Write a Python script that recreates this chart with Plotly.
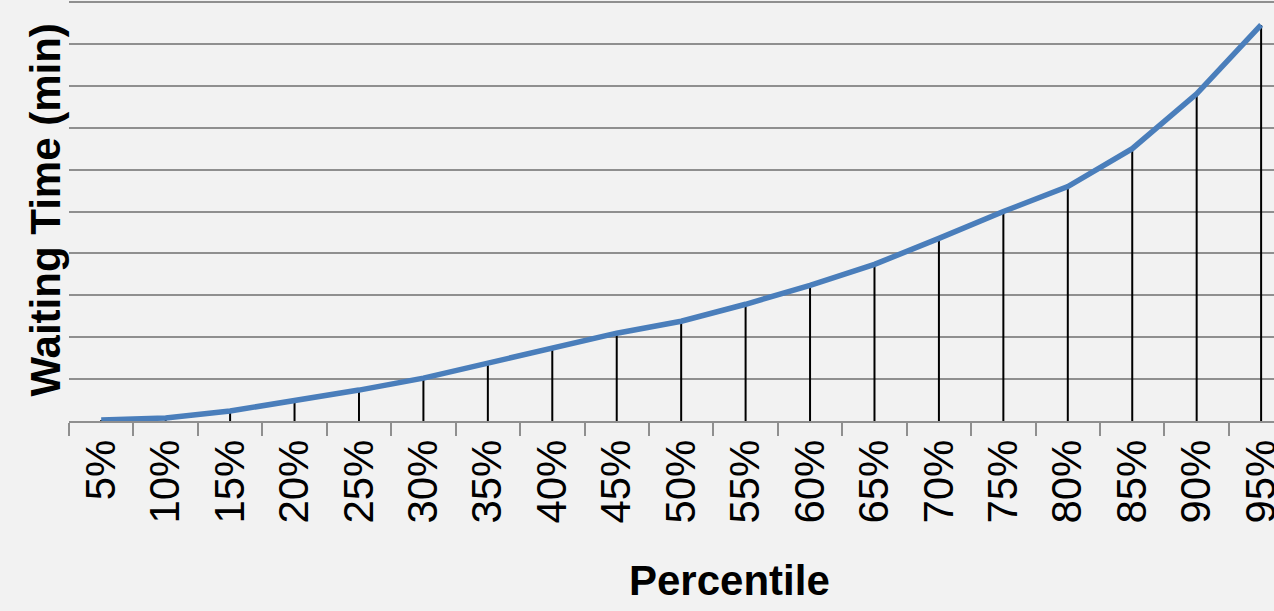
import plotly.graph_objects as go

# Percentile levels shown on the x axis
percentiles = ["5%", "10%", "15%", "20%", "25%", "30%", "35%", "40%", "45%", "50%",
               "55%", "60%", "65%", "70%", "75%", "80%", "85%", "90%", "95%"]

# Waiting time (minutes) at each percentile
waiting_min = [0.12, 0.36, 1.19, 2.38, 3.69, 5.12, 6.90, 8.69, 10.48, 11.9,
               13.93, 16.19, 18.69, 21.79, 25.0, 27.98, 32.5, 39.05, 47.26]

GRID = "#8f8f8f"
BG = "#f2f2f2"
FONT = "Liberation Sans, Arial, sans-serif"

fig = go.Figure()

# Curve with vertical drop lines from the axis to each point
fig.add_trace(go.Scatter(
    x=percentiles,
    y=waiting_min,
    mode="lines",
    line=dict(color="#4a7ebb", width=5.5),
    error_y=dict(
        type="data",
        symmetric=False,
        array=[0] * len(waiting_min),
        arrayminus=waiting_min,
        color="black",
        thickness=2,
        width=0,
    ),
    hoverinfo="x+y",
    showlegend=False,
))

fig.update_layout(
    width=1274,
    height=611,
    margin=dict(l=69, r=0, t=1, b=190),
    paper_bgcolor=BG,
    plot_bgcolor=BG,
    font=dict(family=FONT, color="black"),
    xaxis=dict(
        type="category",
        range=[-0.5, 18.2],
        tickson="boundaries",
        ticks="outside",
        ticklen=13,
        tickwidth=1.5,
        tickcolor=GRID,
        tickangle=-90,
        tickfont=dict(size=42, family=FONT),
        showline=True,
        linecolor=GRID,
        linewidth=1.5,
        showgrid=False,
        zeroline=False,
        automargin=False,
    ),
    yaxis=dict(
        range=[0, 50.12],
        dtick=5,
        showgrid=True,
        gridcolor=GRID,
        gridwidth=1.5,
        showticklabels=False,
        ticks="",
        showline=False,
        zeroline=False,
        automargin=False,
    ),
    annotations=[
        dict(
            text="<b>Percentile</b>",
            xref="paper", yref="paper",
            x=(729 - 69) / 1205, y=(421 - 580) / 420,
            xanchor="center", yanchor="middle",
            showarrow=False,
            font=dict(size=42, family=FONT, color="black"),
        ),
        dict(
            text="<b>Waiting Time (min)</b>",
            xref="paper", yref="paper",
            x=(45 - 69) / 1205, y=(421 - 210.5) / 420,
            xanchor="center", yanchor="middle",
            textangle=-90,
            showarrow=False,
            font=dict(size=42, family=FONT, color="black"),
        ),
    ],
)

fig.write_html("out.html")
